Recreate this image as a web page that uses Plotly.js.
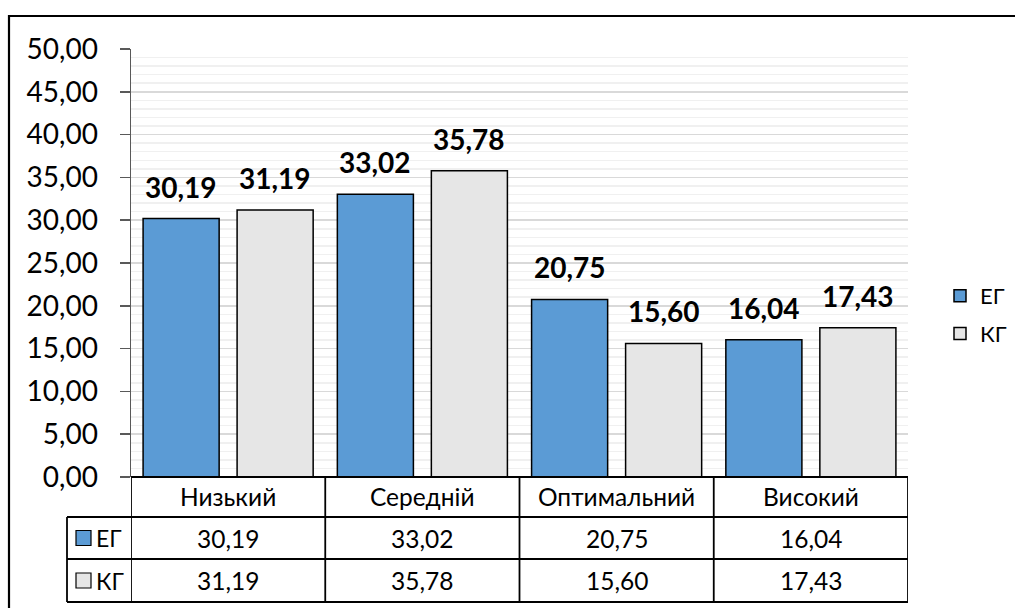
<!DOCTYPE html>
<html>
<head>
<meta charset="utf-8">
<script src="https://cdn.plot.ly/plotly-3.0.1.min.js"></script>
<style>html,body{margin:0;padding:0;background:#fff;}#chart{width:1015px;height:608px;}</style>
</head>
<body>
<div id="chart"></div>
<script>
// ---- data ----
const categories = ['Низький', 'Середній', 'Оптимальний', 'Високий'];
const seriesNames = ['ЕГ', 'КГ'];
const valuesEG = [30.19, 33.02, 20.75, 16.04];
const valuesKG = [31.19, 35.78, 15.60, 17.43];
const colors = ['#5B9BD5', '#E6E6E6'];

const fmt = v => v.toFixed(2).replace('.', ',');
const FONT = 'Lato, "Open Sans", "Noto Sans", sans-serif';

// geometry helpers (pixels -> paper)
const W = 1015, H = 608, ML = 131, MR = 107, MT = 49, MB = 131;
const PW = W - ML - MR, PH = H - MT - MB;
const px = p => (p - ML) / PW;
const py = p => (H - MB - p) / PH;

const allSeries = [valuesEG, valuesKG];
const traces = allSeries.map((vals, s) => ({
  type: 'bar',
  name: seriesNames[s],
  legendgroup: seriesNames[s],
  x: categories,
  y: vals,
  marker: {color: colors[s], line: {color: '#000', width: 1.5}},
  hoverinfo: 'x+y'
}));

const shapes = [];
const annotations = [];
const off = [-0.242, 0.242];

// data labels above bars
allSeries.forEach((vals, s) => {
  vals.forEach((v, i) => {
    annotations.push({
      xref: 'x', yref: 'y', x: i + off[s], y: v,
      text: '<b>' + fmt(v) + '</b>', showarrow: false,
      xanchor: 'center', yanchor: 'bottom', yshift: 13,
      font: {family: FONT, size: 28, color: '#000'}
    });
  });
});

// data table
const lineStyle = {color: '#000', width: 1.8};
const yTop = 0, yR1 = py(517), yR2 = py(559), yR3 = py(602);
const xLeft = px(67);
const TF = 24.5;
// horizontal lines
shapes.push({type: 'line', xref: 'x', yref: 'paper', x0: -0.5, x1: categories.length - 0.5, y0: yTop, y1: yTop, line: lineStyle});
[yR1, yR2, yR3].forEach(y => {
  shapes.push({type: 'line', xref: 'paper', yref: 'paper', x0: xLeft, x1: 1, y0: y, y1: y, line: lineStyle});
});
// vertical lines
for (let i = 0; i <= categories.length; i++) {
  shapes.push({type: 'line', xref: 'x', yref: 'paper', x0: i - 0.5, x1: i - 0.5, y0: yTop, y1: yR3, line: lineStyle});
}
shapes.push({type: 'line', xref: 'paper', yref: 'paper', x0: xLeft, x1: xLeft, y0: yR1, y1: yR3, line: lineStyle});

// header labels
categories.forEach((c, i) => {
  annotations.push({xref: 'x', yref: 'paper', x: i, y: (yTop + yR1) / 2, text: c, showarrow: false,
    xanchor: 'center', yanchor: 'middle', font: {family: FONT, size: TF, color: '#000'}});
});
// rows
const rowMid = [(yR1 + yR2) / 2, (yR2 + yR3) / 2];
allSeries.forEach((vals, s) => {
  vals.forEach((v, i) => {
    annotations.push({xref: 'x', yref: 'paper', x: i, y: rowMid[s], text: fmt(v), showarrow: false,
      xanchor: 'center', yanchor: 'middle', font: {family: FONT, size: TF, color: '#000'}});
  });
  const sq0 = rowMid[s] + 7.5 / PH, sq1 = rowMid[s] - 7.5 / PH;
  shapes.push({type: 'rect', xref: 'paper', yref: 'paper', x0: px(76), x1: px(91), y0: sq1, y1: sq0,
    fillcolor: colors[s], line: {color: '#000', width: 1.2}});
  annotations.push({xref: 'paper', yref: 'paper', x: px(94), y: rowMid[s], text: seriesNames[s], showarrow: false,
    xanchor: 'left', yanchor: 'middle', font: {family: FONT, size: 23, color: '#000'}});
});

// outer chart border
shapes.push({type: 'rect', xref: 'paper', yref: 'paper', x0: px(9), x1: px(1030), y0: py(625), y1: py(16),
  line: {color: '#000', width: 2.2}, fillcolor: 'rgba(0,0,0,0)', layer: 'above'});

const layout = {
  width: W, height: H,
  margin: {l: ML, r: MR, t: MT, b: MB, pad: 0, autoexpand: false},
  paper_bgcolor: '#fff', plot_bgcolor: '#fff',
  separators: ', ',
  barmode: 'group', bargap: 0.032, bargroupgap: 0.191,
  font: {family: FONT, color: '#000'},
  xaxis: {type: 'category', range: [-0.5, 3.5], showticklabels: false, showgrid: false,
    zeroline: false, showline: false, ticks: '', fixedrange: true, automargin: false},
  yaxis: {range: [0, 50], dtick: 5, tickformat: '.2f', showline: true, linecolor: '#595959', linewidth: 1.5,
    ticks: 'outside', ticklen: 10, tickwidth: 1.5, tickcolor: '#595959', ticklabelstandoff: 16,
    showgrid: true, gridcolor: '#D9D9D9', gridwidth: 1.5, zeroline: false, automargin: false,
    minor: {dtick: 1, showgrid: true, gridcolor: '#F0F0F0', gridwidth: 1.5, ticks: ''},
    tickfont: {family: FONT, size: 28, color: '#000'}, fixedrange: true},
  showlegend: true,
  legend: {x: px(940), xanchor: 'left', y: py(275), yanchor: 'top', traceorder: 'grouped', tracegroupgap: 6,
    font: {family: FONT, size: 22, color: '#000'}, bgcolor: 'rgba(0,0,0,0)', itemclick: false},
  shapes: shapes,
  annotations: annotations
};

Plotly.newPlot('chart', traces, layout, {displayModeBar: false, staticPlot: true});
</script>
</body>
</html>
